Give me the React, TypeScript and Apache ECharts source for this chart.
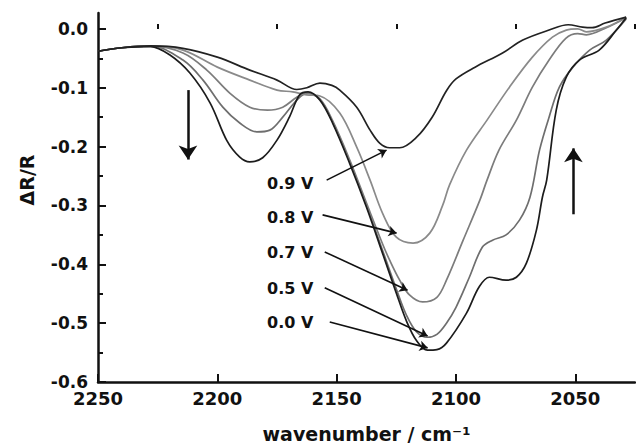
import React, { useEffect, useRef } from 'react';
import * as echarts from 'echarts';

// Spectra: [wavenumber (cm-1), ΔR/R]
const CURVE_00: [number, number][] = [
  [2250, -0.038], [2240, -0.032], [2228, -0.030], [2220, -0.044], [2211.5, -0.075], [2203, -0.126],
  [2196, -0.190], [2190.6, -0.218], [2186.4, -0.226], [2181, -0.219], [2175, -0.189], [2169.7, -0.149],
  [2165.5, -0.112], [2162, -0.107], [2157, -0.121], [2151.7, -0.160], [2144.6, -0.228], [2137.5, -0.303],
  [2130.8, -0.381], [2125, -0.449], [2120.7, -0.497], [2116.5, -0.530], [2112, -0.546], [2108, -0.545],
  [2104, -0.534], [2095.6, -0.483], [2090.4, -0.439], [2086, -0.422], [2079, -0.427], [2074.7, -0.422],
  [2070.5, -0.398], [2066.3, -0.342], [2063.8, -0.286], [2062, -0.257], [2058, -0.138], [2053.8, -0.082],
  [2048.3, -0.053], [2040, -0.036], [2032.8, -0.002], [2028.7, 0.019],
];
const CURVE_05: [number, number][] = [
  [2250, -0.038], [2240, -0.032], [2228, -0.029], [2214.4, -0.053], [2206, -0.087], [2197.7, -0.133],
  [2190.6, -0.160], [2183.5, -0.175], [2178, -0.172], [2172.6, -0.150], [2166.7, -0.121], [2162.5, -0.109],
  [2157, -0.120], [2151.7, -0.158], [2144.6, -0.225], [2137.5, -0.300], [2130.8, -0.376], [2125, -0.442],
  [2120.7, -0.487], [2116.5, -0.515], [2112, -0.524], [2108, -0.519], [2104, -0.500], [2100, -0.473],
  [2094.4, -0.422], [2089, -0.371], [2084.7, -0.359], [2079, -0.350], [2073.4, -0.325], [2069, -0.286],
  [2065, -0.206], [2061, -0.150], [2056.7, -0.099], [2051, -0.065], [2044, -0.036], [2037, -0.019],
  [2028.7, 0.017],
];
const CURVE_07: [number, number][] = [
  [2250, -0.038], [2240, -0.032], [2228, -0.029], [2214.4, -0.041], [2204.4, -0.070], [2194.8, -0.109],
  [2186.4, -0.133], [2179, -0.138], [2172.6, -0.133], [2166.7, -0.116], [2162.5, -0.109], [2157, -0.119],
  [2151.7, -0.156], [2144.6, -0.222], [2137.5, -0.296], [2130.8, -0.365], [2127.8, -0.393], [2123.6, -0.427],
  [2119.5, -0.452], [2114, -0.464], [2108, -0.456], [2104, -0.427], [2097, -0.359], [2090, -0.291],
  [2087, -0.257], [2082, -0.206], [2074.7, -0.155], [2068, -0.099], [2061, -0.053], [2054, -0.016],
  [2049, -0.008], [2045.4, -0.010], [2037, 0.002], [2028.7, 0.019],
];
const CURVE_08: [number, number][] = [
  [2250, -0.038], [2240, -0.032], [2228, -0.029], [2214.4, -0.036], [2200, -0.065], [2186.4, -0.087],
  [2175, -0.104], [2168.4, -0.107], [2162.6, -0.112], [2157, -0.114], [2148.7, -0.143], [2141.6, -0.201],
  [2136, -0.257], [2130.8, -0.313], [2125, -0.354], [2118, -0.364], [2111, -0.347], [2105.6, -0.300],
  [2102.7, -0.265], [2095.6, -0.206], [2087, -0.155], [2077.6, -0.099], [2068, -0.048], [2059.6, -0.014],
  [2053.8, -0.002], [2049, 0.000], [2045.4, -0.005], [2037, 0.003], [2028.7, 0.020],
];
const CURVE_09: [number, number][] = [
  [2250, -0.038], [2240, -0.032], [2228, -0.029], [2214.4, -0.033], [2200, -0.048], [2186.4, -0.070],
  [2175, -0.087], [2166.7, -0.103], [2162.5, -0.100], [2157, -0.092], [2152, -0.096], [2148.7, -0.104],
  [2141.6, -0.133], [2136, -0.172], [2132, -0.194], [2127.8, -0.202], [2123.6, -0.202], [2116.5, -0.184],
  [2110, -0.150], [2104, -0.105], [2100, -0.085], [2092, -0.065], [2080.5, -0.041], [2072, -0.019],
  [2061, -0.002], [2053, 0.007], [2047, 0.003], [2043, 0.002], [2037.5, 0.010], [2028.7, 0.020],
];

const SERIES_NAMES = ['0.0 V', '0.5 V', '0.7 V', '0.8 V', '0.9 V'];
const SERIES_DATA = [CURVE_00, CURVE_05, CURVE_07, CURVE_08, CURVE_09];
const SERIES_COLORS = ['#1c1c1c', '#6e6e6e', '#7c7c7c', '#8a8a8a', '#222222'];

const X_MAJOR = [2250, 2200, 2150, 2100, 2050];
const X_MINOR = [2225, 2175, 2125, 2075, 2025];
const Y_MAJOR = [0, -0.1, -0.2, -0.3, -0.4, -0.5, -0.6];
const Y_MINOR = [-0.05, -0.15, -0.25, -0.35, -0.45, -0.55];

// Label arrows: [from, tip] in data coordinates, in the order of LABEL_TEXTS
const LABEL_TEXTS = ['0.9 V', '0.8 V', '0.7 V', '0.5 V', '0.0 V'];
const LABEL_ARROWS: [number, number][][] = [
  [[2154.2, -0.257], [2129.1, -0.206]],
  [[2155.9, -0.316], [2124.9, -0.347]],
  [[2155.0, -0.379], [2120.3, -0.444]],
  [[2155.0, -0.440], [2111.9, -0.522]],
  [[2152.9, -0.498], [2111.9, -0.542]],
];
// trend arrows
const TREND_ARROWS: [number, number][][] = [
  [[2212.3, -0.104], [2212.3, -0.222]],
  [[2050.8, -0.315], [2050.8, -0.203]],
];

const GRID = { left: 98, right: 1, top: 13, bottom: 66 };
const LABEL_LEFT = 267;
const LABEL_CY = [183, 217, 252, 288, 322];

export default function App() {
  const ref = useRef<HTMLDivElement>(null);
  useEffect(() => {
    if (!ref.current) return;
    const chart = echarts.init(ref.current, undefined, { renderer: 'svg' });
    const ink = '#111';
    const tickFont = { fontFamily: 'DejaVu Sans', fontWeight: 'bold' as const, color: ink };
    const yRange = { min: -0.6, max: 0.027 };
    const xRange = { min: 2025, max: 2250 };

    const series: any[] = SERIES_DATA.map((d, i) => ({
      name: SERIES_NAMES[i],
      type: 'line',
      data: d,
      xAxisIndex: 0,
      yAxisIndex: 0,
      showSymbol: false,
      smooth: 0.35,
      clip: false,
      lineStyle: { color: SERIES_COLORS[i], width: 1.7 },
      z: i === 0 || i === 4 ? 3 : 2,
    }));
    series[4].markLine = {
      silent: true,
      symbol: ['none', 'arrow'],
      symbolSize: 8,
      label: { show: false },
      lineStyle: { color: ink, width: 1.6, type: 'solid' },
      emphasis: { disabled: true },
      data: LABEL_ARROWS.map(([a, b]) => [
        { coord: a, symbol: 'none' },
        { coord: b, symbol: 'arrow', symbolSize: 8 },
      ]),
    };
    series[0].markLine = {
      silent: true,
      symbol: ['none', 'arrow'],
      symbolSize: 14,
      label: { show: false },
      lineStyle: { color: ink, width: 2.5, type: 'solid' },
      emphasis: { disabled: true },
      data: TREND_ARROWS.map(([a, b]) => [
        { coord: a, symbol: 'none' },
        { coord: b, symbol: 'arrow', symbolSize: 14 },
      ]),
    };

    chart.setOption({
      animation: false,
      backgroundColor: '#fff',
      grid: { ...GRID, containLabel: false, outerBoundsMode: 'none' },
      xAxis: [
        {
          type: 'value', inverse: true, ...xRange,
          axisLine: { show: true, onZero: false, lineStyle: { color: ink, width: 2.5 } },
          axisTick: { show: true, inside: true, length: 8, lineStyle: { color: ink, width: 2 }, customValues: X_MAJOR },
          axisLabel: { show: true, margin: 7, fontSize: 18, ...tickFont, customValues: X_MAJOR, formatter: (v: number) => String(v) },
          splitLine: { show: false },
          name: 'wavenumber / cm⁻¹',
          nameLocation: 'middle',
          nameGap: 42,
          nameTextStyle: { fontFamily: 'DejaVu Sans', fontWeight: 'bold', fontSize: 19, color: ink },
        },
        {
          type: 'value', inverse: true, ...xRange, position: 'bottom',
          axisLine: { show: false },
          axisTick: { show: true, inside: true, length: 5, lineStyle: { color: ink, width: 2 }, customValues: X_MINOR },
          axisLabel: { show: false },
          splitLine: { show: false },
        },
      ],
      yAxis: [
        {
          type: 'value', ...yRange, position: 'left',
          axisLine: { show: true, onZero: false, lineStyle: { color: ink, width: 2.5 } },
          axisTick: { show: true, inside: true, length: 8, lineStyle: { color: ink, width: 2 }, customValues: Y_MAJOR },
          axisLabel: { show: true, margin: 10, fontSize: 17, ...tickFont, customValues: Y_MAJOR, formatter: (v: number) => v.toFixed(1) },
          splitLine: { show: false },
        },
        {
          type: 'value', ...yRange, position: 'left',
          axisLine: { show: false },
          axisTick: { show: true, inside: true, length: 5, lineStyle: { color: ink, width: 2 }, customValues: Y_MINOR },
          axisLabel: { show: false },
          splitLine: { show: false },
        },
      ],
      graphic: [
        {
          type: 'text', x: 27, y: 180, rotation: Math.PI / 2,
          style: { text: 'ΔR/R', fontFamily: 'DejaVu Sans', fontWeight: 'bold', fontSize: 19, fill: ink, align: 'center', verticalAlign: 'middle' },
        },
        ...LABEL_TEXTS.map((t, i) => ({
          type: 'text', x: LABEL_LEFT, y: LABEL_CY[i],
          style: { text: t, fontFamily: 'DejaVu Sans', fontWeight: 'bold', fontSize: 16, fill: ink, align: 'left', verticalAlign: 'middle' },
        })),
      ],
      series,
    });
    return () => chart.dispose();
  }, []);
  return <div ref={ref} style={{ position: 'absolute', left: 0, top: 0, width: 636, height: 448 }} />;
}
